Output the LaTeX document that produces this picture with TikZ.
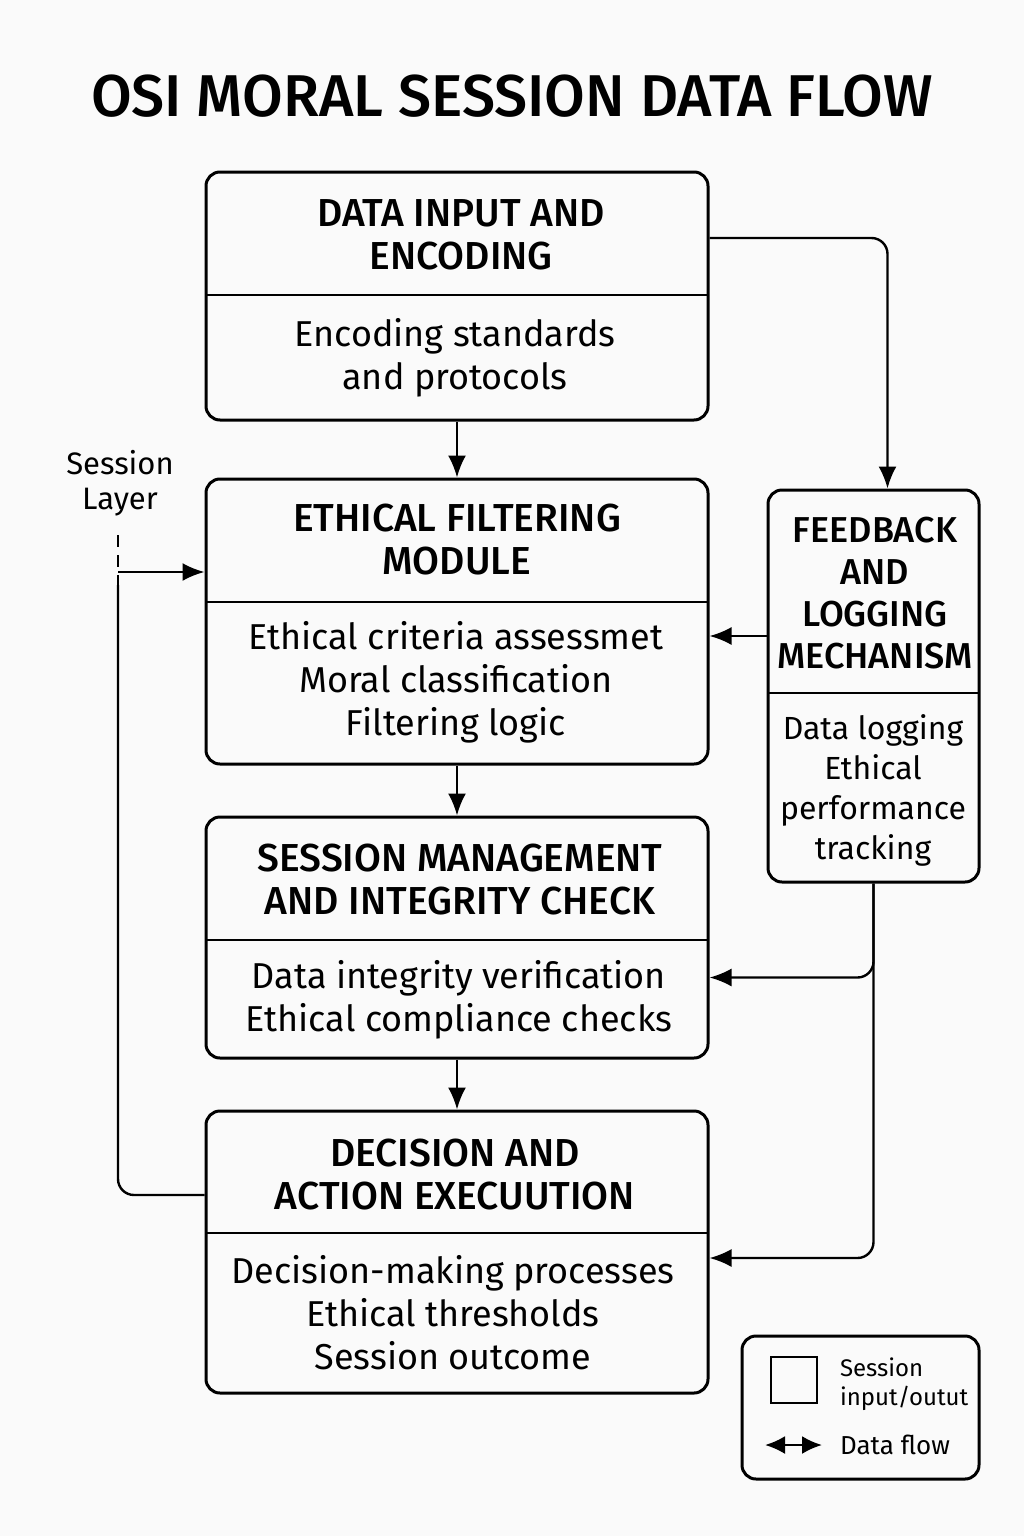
\documentclass[tikz,border=0pt]{standalone}
\usepackage{fontspec}
\setmainfont{Fira Sans}[BoldFont={Fira Sans Medium}]
\usetikzlibrary{arrows.meta,fit,positioning}
\tikzset{
  box/.style={draw, line width=1.5pt, rounded corners=7pt, inner sep=0pt},
  hd/.style={font=\fontsize{19.5}{21.5}\selectfont\bfseries, align=center},
  bd/.style={font=\fontsize{18}{21.5}\selectfont, align=center},
  flow/.style={line width=1.2pt, rounded corners=8pt, -{Latex[length=11pt,width=9pt]}},
  wire/.style={line width=1.2pt, rounded corners=8pt},
}
\begin{document}
\begin{tikzpicture}[x=0.5pt,y=-0.5pt]
\useasboundingbox[fill=black!2] (0,0) rectangle (1024,1536);
\node[font=\fontsize{29.5}{33}\selectfont\bfseries] (title) at (512,96) {OSI MORAL SESSION DATA FLOW};

% main column
\node[box, fit={(206,172) (708,420)}] (inp) {};
\draw[line width=1.2pt] (206,295) -- (708,295);
\node[hd] (inph) at (461,235) {DATA INPUT AND\\ENCODING};
\node[bd] (inpb) at (455,358) {Encoding standards\\and protocols};

\node[box, fit={(206,479) (708,764)}] (filt) {};
\draw[line width=1.2pt] (206,602) -- (708,602);
\node[hd] (filth) at (457,540) {ETHICAL FILTERING\\MODULE};
\node[bd] (filtb) at (456,682) {Ethical criteria assessmet\\Moral classification\\Filtering logic};

\node[box, fit={(206,817) (708,1058)}] (sess) {};
\draw[line width=1.2pt] (206,940) -- (708,940);
\node[hd] (sessh) at (460,880) {SESSION MANAGEMENT\\AND INTEGRITY CHECK};
\node[bd] (sessb) at (459,1000) {Data integrity verification\\Ethical compliance checks};

\node[box, fit={(206,1111) (708,1393)}] (dec) {};
\draw[line width=1.2pt] (206,1233) -- (708,1233);
\node[hd] (dech) at (455,1175) {DECISION AND\\ACTION EXECUUTION};
\node[bd] (decb) at (453,1313) {Decision-making processes\\Ethical thresholds\\Session outcome};

% feedback
\node[box, fit={(768,490) (979,882)}] (fb) {};
\draw[line width=1.2pt] (768,693) -- (979,693);
\node[hd, font=\fontsize{18}{21}\selectfont\bfseries] (fbh) at (875,593) {FEEDBACK\\AND\\LOGGING\\MECHANISM};
\node[bd, font=\fontsize{16}{20}\selectfont] (fbb) at (873,790) {Data logging\\Ethical\\performance\\tracking};

% session layer
\node[font=\fontsize{15.5}{17.5}\selectfont, align=center] (slab) at (120,483) {Session\\Layer};
\coordinate (slt) at (118,535);
\coordinate (sl) at (118,585);
\coordinate (sla) at (118,572);
\draw[line width=1.2pt, dash pattern=on 6pt off 4pt] (slt) -- (sl);
\draw[wire] ([yshift=28.5pt]dec.west) -| (sl);
\draw[flow] (sla) -- (sla -| filt.west);

% flows
\draw[flow] (inp) -- (filt);
\draw[flow] (filt) -- (sess);
\draw[flow] (sess) -- (dec);
\draw[flow] ([yshift=29pt]inp.east) -| ([xshift=7pt]fb.north);
\path ([yshift=25pt]fb.west) coordinate (fbo);
\draw[flow] (fbo) -- (fbo -| filt.east);
\draw[flow] (fb.south) |- ([yshift=-20pt]sess.east);
\draw[flow] (fb.south) |- ([yshift=-3pt]dec.east);

% legend
\node[box, fit={(742,1336) (979,1479)}] (leg) {};
\node[draw, line width=1.2pt, minimum size=23pt, inner sep=0pt] (legsq) at (794,1380) {};
\node[anchor=west, align=left, font=\fontsize{12}{14.5}\selectfont] (legt) at (833,1384) {Session\\input/outut};
\draw[line width=1.2pt, {Latex[length=10pt,width=9pt]}-{Latex[length=10pt,width=9pt]}] (765,1445) -- (822,1445);
\node[anchor=west, font=\fontsize{13}{15}\selectfont] (legf) at (833,1445) {Data flow};
\end{tikzpicture}
\end{document}
